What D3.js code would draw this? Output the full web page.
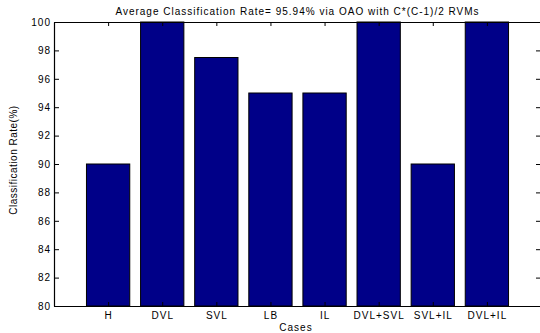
<!DOCTYPE html>
<html>
<head>
<meta charset="utf-8">
<script src="https://cdnjs.cloudflare.com/ajax/libs/d3/7.8.5/d3.min.js"></script>
<style>
  body { margin: 0; background: #fff; }
  svg { display: block; font-family: "Liberation Sans", Arial, Helvetica, sans-serif; }
  .axis text { font-size: 10px; fill: #000; letter-spacing: 1px; }
  .axis path, .axis line { stroke: #000; }
</style>
</head>
<body>
<div id="chart"></div>
<script>
var cases = ["H", "DVL", "SVL", "LB", "IL", "DVL+SVL", "SVL+IL", "DVL+IL"];
var rates = [90, 100, 97.5, 95, 95, 100, 90, 100];
var yTicks = [80, 82, 84, 86, 88, 90, 92, 94, 96, 98, 100];

var W = 540, H = 333;
var margin = { top: 22, right: -1, bottom: 27, left: 54 };
var width = W - margin.left - margin.right;
var height = H - margin.top - margin.bottom;

var svg = d3.select("#chart").append("svg")
  .attr("width", W)
  .attr("height", H);

var g = svg.append("g")
  .attr("transform", "translate(" + margin.left + "," + margin.top + ")");

// matlab style: categories at 1..n, limits 0..n+1
var x = d3.scaleLinear()
  .domain([0, cases.length + 1])
  .range([0, width]);

var y = d3.scaleLinear()
  .domain([80, 100])
  .range([height, 0]);

var barW = (x(1) - x(0)) * 0.8;

g.selectAll(".bar")
  .data(rates)
  .enter().append("rect")
  .attr("class", "bar")
  .attr("x", function (d, i) { return x(i + 1) - barW / 2; })
  .attr("y", function (d) { return y(d); })
  .attr("width", barW)
  .attr("height", function (d) { return height - y(d); })
  .attr("fill", "#000088")
  .attr("stroke", "#000")
  .attr("stroke-width", 1);

var tickVals = d3.range(1, cases.length + 1);

// bottom axis
g.append("g")
  .attr("class", "axis")
  .attr("transform", "translate(0," + height + ")")
  .call(d3.axisBottom(x).tickValues(tickVals)
    .tickFormat(function (d) { return cases[d - 1]; })
    .tickSize(-4).tickSizeOuter(0).tickPadding(6));

// top axis
g.append("g")
  .attr("class", "axis")
  .call(d3.axisTop(x).tickValues(tickVals).tickFormat("")
    .tickSize(-4).tickSizeOuter(0));

// left axis
g.append("g")
  .attr("class", "axis")
  .call(d3.axisLeft(y).tickValues(yTicks)
    .tickSize(-5).tickSizeOuter(0).tickPadding(3));

// right axis
g.append("g")
  .attr("class", "axis")
  .attr("transform", "translate(" + width + ",0)")
  .call(d3.axisRight(y).tickValues(yTicks).tickFormat("")
    .tickSize(-5).tickSizeOuter(0));

svg.selectAll(".axis path").attr("stroke-width", 1.2);

// title
svg.append("text")
  .attr("x", margin.left + width / 2)
  .attr("y", 15)
  .attr("text-anchor", "middle")
  .style("font-size", "10px")
  .style("letter-spacing", "1px")
  .text("Average Classification Rate= 95.94% via OAO with C*(C-1)/2 RVMs");

// x label
svg.append("text")
  .attr("x", 296)
  .attr("y", 331)
  .attr("text-anchor", "middle")
  .style("font-size", "10px")
  .style("letter-spacing", "1px")
  .text("Cases");

// y label
svg.append("text")
  .attr("transform", "translate(17,160) rotate(-90)")
  .attr("text-anchor", "middle")
  .style("font-size", "10px")
  .style("letter-spacing", "0.5px")
  .text("Classification Rate(%)");
</script>
</body>
</html>
